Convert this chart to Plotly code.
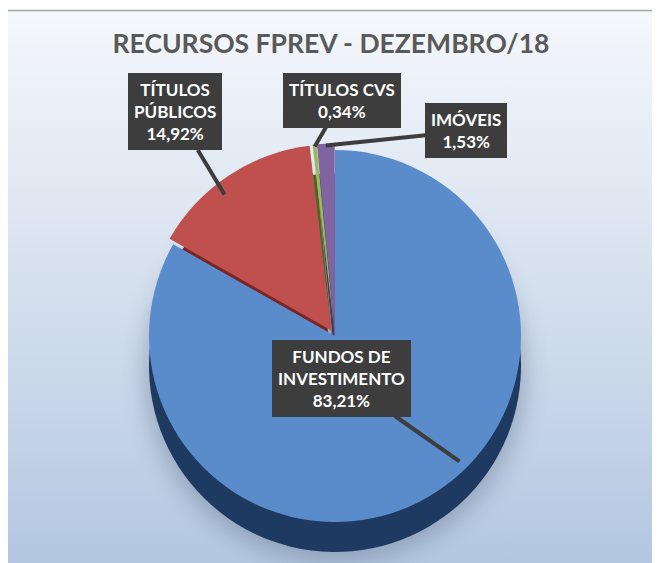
import base64
import math
import plotly.graph_objects as go

# ---- data ----
categories = ["FUNDOS DE INVESTIMENTO", "TÍTULOS PÚBLICOS", "TÍTULOS CVS", "IMÓVEIS"]
values = [83.21, 14.92, 0.34, 1.53]
label_lines = ["FUNDOS DE<br>INVESTIMENTO", "TÍTULOS<br>PÚBLICOS", "TÍTULOS CVS", "IMÓVEIS"]
value_labels = ["83,21%", "14,92%", "0,34%", "1,53%"]
title_text = "RECURSOS FPREV - DEZEMBRO/18"

# ---- styling ----
# the page body adds an 8px margin, so the figure is sized to fit the window
W, H = 652, 555
OFF = 8  # screen offset of the figure
top_colors = ["#5A8BCB", "#C0504D", "#9BBB59", "#8064A2"]
side_colors = ["#1F3A60", "#7A2624", "#4F6228", "#4B3A61"]
pulls = [0.0, 0.035, 0.035, 0.035]
maxpull = max(pulls)

cx, cy = 335 - OFF, 336 - OFF   # pie centre in figure pixels (from top)
R = 186                         # pie radius in pixels
depth = 30                      # 3-D side thickness in pixels
half = R * (1 + maxpull)


def dom(cx_, cy_):
    return dict(
        x=[(cx_ - half) / W, (cx_ + half) / W],
        y=[(H - cy_ - half) / H, (H - cy_ + half) / H],
    )


fig = go.Figure()
# side (depth) of the pie
fig.add_trace(go.Pie(
    labels=categories, values=values, sort=False, direction="clockwise",
    rotation=0, pull=pulls, marker=dict(colors=side_colors, line=dict(width=0)),
    textinfo="none", hoverinfo="skip", showlegend=False, domain=dom(cx, cy + depth),
))
# top face
fig.add_trace(go.Pie(
    labels=categories, values=values, sort=False, direction="clockwise",
    rotation=0, pull=pulls, marker=dict(colors=top_colors, line=dict(width=0)),
    textinfo="none", hovertemplate="%{label}: %{percent}<extra></extra>",
    showlegend=False, domain=dom(cx, cy),
))

# ---- callouts ----
total = sum(values)
cum = 0
mids = []
for v in values:
    mids.append((cum + v / 2) / total * 2 * math.pi)
    cum += v

tip_r = [0.95, 0.93, 0.99, 0.99]
tip_angle_override = [2.36, 5.62, None, None]
box_centres = [(341, 378), (175, 112), (342, 100), (466, 131)]  # screen px

for i in range(len(categories)):
    ang = tip_angle_override[i] if tip_angle_override[i] is not None else mids[i]
    rr = R * (tip_r[i] + pulls[i])
    tx = cx + rr * math.sin(ang)
    ty = cy - rr * math.cos(ang)
    bx, by = box_centres[i][0] - OFF, box_centres[i][1] - OFF
    fig.add_annotation(
        x=tx / W, y=1 - ty / H, xref="paper", yref="paper",
        ax=bx - tx, ay=by - ty, axref="pixel", ayref="pixel",
        text=f"{label_lines[i]}<br>{value_labels[i]}",
        showarrow=True, arrowhead=0, arrowwidth=4, arrowcolor="#3D3D3D",
        bgcolor="#3D3D3D", borderpad=5, bordercolor="#3D3D3D",
        font=dict(family="Lato", size=17, color="white", weight="bold"),
        align="center",
    )

# ---- background gradient panel ----
px0, py0 = 0, 2
pw, ph = W - px0, H - py0
svg = (
    f'<svg xmlns="http://www.w3.org/2000/svg" width="{pw}" height="{ph}" '
    f'viewBox="0 0 {pw} {ph}" preserveAspectRatio="none">'
    '<defs><linearGradient id="g" x1="0" y1="0" x2="0" y2="1">'
    '<stop offset="0" stop-color="#F5F8FC"/>'
    '<stop offset="0.5" stop-color="#D5E0EE"/>'
    '<stop offset="1" stop-color="#B3C7E1"/>'
    '</linearGradient>'
    '<filter id="b" x="-20%" y="-20%" width="140%" height="140%">'
    '<feGaussianBlur stdDeviation="12"/></filter></defs>'
    f'<rect width="{pw}" height="{ph}" fill="url(#g)"/>'
    f'<circle cx="{cx - px0}" cy="{cy + depth + 6 - py0}" r="{R + 4}" '
    'fill="#5E708A" opacity="0.45" filter="url(#b)"/></svg>'
)
src = "data:image/svg+xml;base64," + base64.b64encode(svg.encode()).decode()

fig.update_layout(
    width=W, height=H,
    margin=dict(l=0, r=0, t=0, b=0),
    paper_bgcolor="white",
    images=[dict(source=src, xref="paper", yref="paper", x=px0 / W, y=1 - py0 / H,
                 sizex=pw / W, sizey=ph / H, sizing="stretch",
                 xanchor="left", yanchor="top", layer="below")],
    shapes=[dict(type="line", xref="paper", yref="paper", x0=0, x1=1,
                 y0=1 - 2.5 / H, y1=1 - 2.5 / H,
                 line=dict(color="#A8A8A8", width=1.5))],
    title=dict(text=title_text, x=(331 - OFF) / W, xanchor="center",
               y=1 - (44 - OFF) / H, yanchor="middle",
               font=dict(family="Lato", size=26.5, color="#595959", weight="bold")),
)

fig.write_html("out.html")
